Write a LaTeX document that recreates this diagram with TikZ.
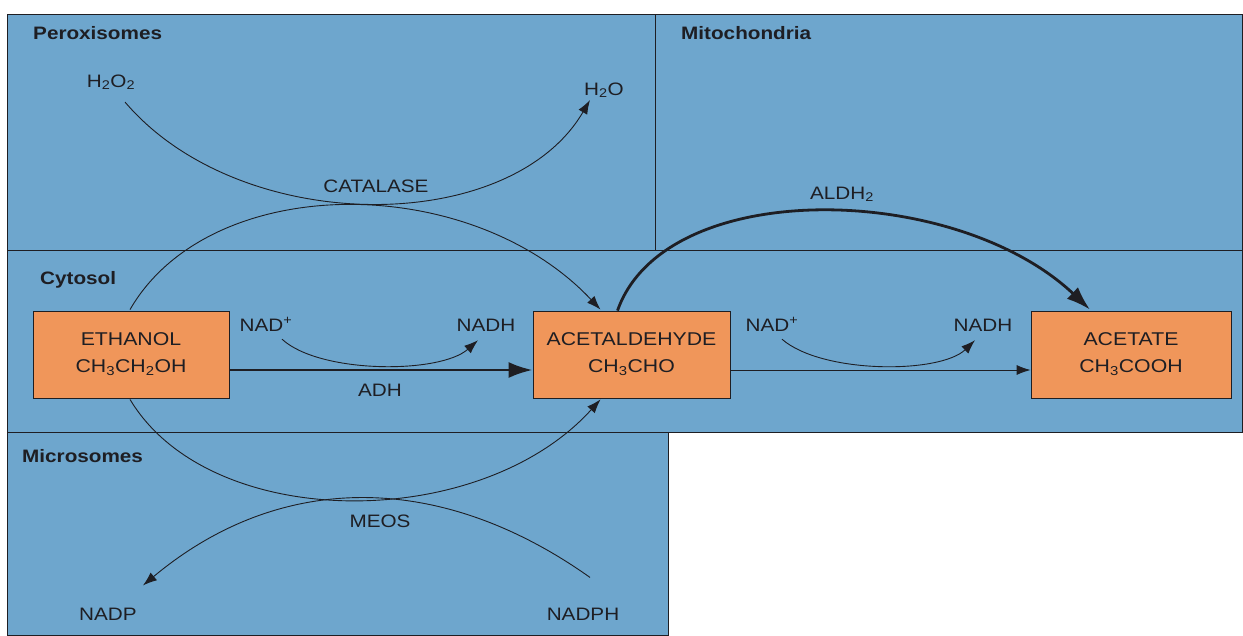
\documentclass[tikz,border=0pt]{standalone}
\usepackage{fontspec}
\setmainfont{Liberation Sans}[FakeStretch=1.15]
\usetikzlibrary{arrows.meta,calc}
\definecolor{panelblue}{RGB}{110,166,205}
\definecolor{boxorange}{RGB}{240,150,90}
\definecolor{ink}{RGB}{30,30,35}
\begin{document}
\begin{tikzpicture}[x=1pt,y=-1pt,
  panel/.style={draw=ink,line width=0.9pt,fill=panelblue},
  region/.style={anchor=base west,font=\bfseries\fontsize{18}{21}\selectfont,text=ink,inner sep=0pt},
  lbl/.style={anchor=base,font=\fontsize{18}{21}\selectfont,text=ink,inner sep=0pt},
  chem/.style={draw=ink,line width=0.8pt,fill=boxorange,minimum height=87pt,align=center,
    font=\fontsize{18.5}{27}\selectfont,text=ink,inner sep=0pt},
  thin/.style={draw=ink,line width=0.9pt},
  thinarrow/.style={thin,-{Latex[length=14pt,width=10pt]}},
  thickarrow/.style={draw=ink,line width=2.8pt,-{Latex[length=24pt,width=16pt]}}
]
\useasboundingbox (0,0) rectangle (1243,635);
\fill[white] (0,0) rectangle (1243,635);
% panels
\draw[panel] (7,14) rectangle (655,250);
\draw[panel] (655,14) rectangle (1242,250);
\draw[panel] (7,250) rectangle (1242,432);
\draw[panel] (7,432) rectangle (668,635);
% region labels
\node[region] (perox) at (33,39) {Peroxisomes};
\node[region] (mito) at (681,39) {Mitochondria};
\node[region] (cyto) at (40,284) {Cytosol};
\node[region] (micro) at (22,462) {Microsomes};
% boxes
\node[chem,minimum width=196pt] (ethanol) at (131,354.5) {ETHANOL\\CH\textsubscript{3}CH\textsubscript{2}OH};
\node[chem,minimum width=197pt] (acetald) at (631.5,354.5) {ACETALDEHYDE\\CH\textsubscript{3}CHO};
\node[chem,minimum width=200pt] (acetate) at (1131,354.5) {ACETATE\\CH\textsubscript{3}COOH};
% labels
\node[lbl] (h2o2) at (111,87) {H\textsubscript{2}O\textsubscript{2}};
\node[lbl] (h2o) at (604,95) {H\textsubscript{2}O};
\node[lbl] (catalase) at (376,192) {CATALASE};
\node[lbl] (aldh) at (842,199) {ALDH\textsubscript{2}};
\node[lbl] (nad1) at (266,331) {NAD\textsuperscript{+}};
\node[lbl] (nadh1) at (486,331) {NADH};
\node[lbl] (adh) at (380,396) {ADH};
\node[lbl] (nad2) at (772,331) {NAD\textsuperscript{+}};
\node[lbl] (nadh2) at (983,331) {NADH};
\node[lbl] (meos) at (380,527) {MEOS};
\node[lbl] (nadp) at (108,620) {NADP};
\node[lbl] (nadph) at (583,620) {NADPH};
% catalase pathway
\draw[thinarrow] ($(h2o2.south)+(14,12)$) .. controls (240,237) and (510,237) .. ($(h2o.south)+(-14,2)$);
\draw[thinarrow] ($(ethanol.north)+(-1,-1)$) .. controls (210,171) and (470,171) .. ($(acetald.north)+(-31,-1)$);
% ADH
\draw[thickarrow] ($(ethanol.east)+(0,15.5)$) -- ($(acetald.west)+(0,15.5)$);
\draw[thinarrow] ($(nad1.south)+(16,8)$) .. controls (320,374) and (440,374) .. ($(nadh1.south)+(-8,9)$);
% ALDH
\draw[thickarrow] ($(acetald.north)+(-14,0)$) .. controls (665,176) and (955,182) .. ($(acetate.north)+(-41,-1)$);
\draw[thinarrow] ($(acetald.east)+(0,15.5)$) -- ($(acetate.west)+(0,15.5)$);
\draw[thinarrow] ($(nad2.south)+(10,8)$) .. controls (822,374) and (940,374) .. ($(nadh2.south)+(-8,9)$);
% MEOS
\draw[thinarrow] ($(ethanol.south)+(-1,1)$) .. controls (210,533) and (480,533) .. ($(acetald.south)+(-31,1)$);
\draw[thinarrow] ($(nadph.north)+(7,-30)$) .. controls (440,471) and (280,471) .. ($(nadp.north)+(35,-22)$);
\end{tikzpicture}
\end{document}
